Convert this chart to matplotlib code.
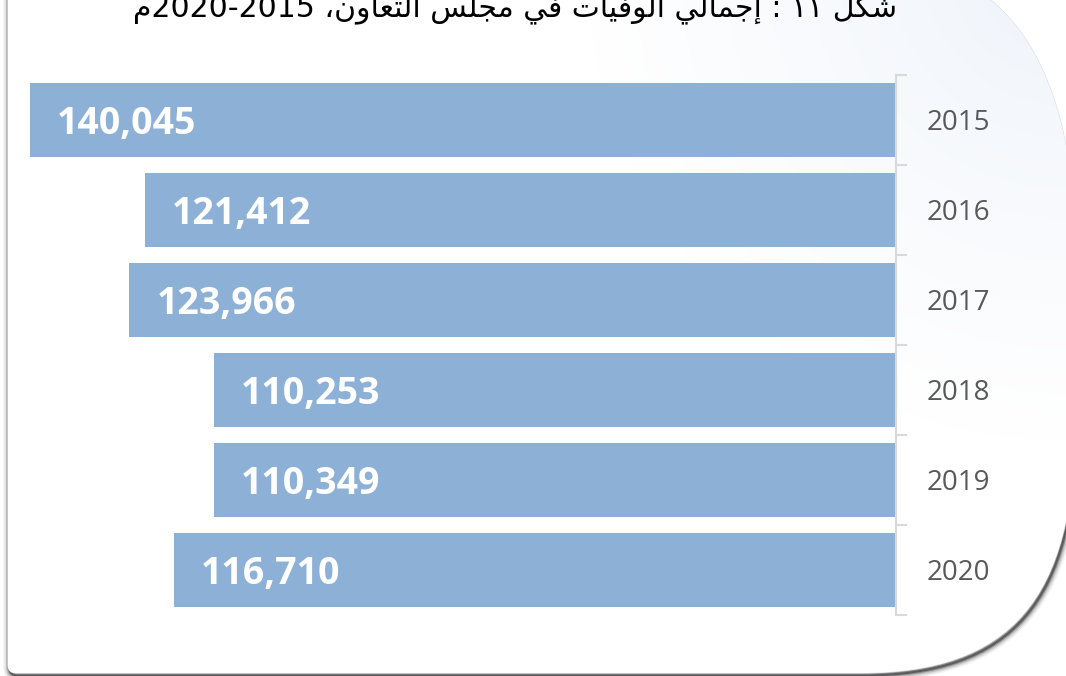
import numpy as np
import matplotlib.pyplot as plt
from matplotlib.path import Path
from matplotlib.patches import PathPatch
import matplotlib.transforms as mtransforms

years = ['2015', '2016', '2017', '2018', '2019', '2020']
deaths = [140045, 121412, 123966, 110253, 110349, 116710]

# Arabic title, written in visual (left-to-right) order with presentation forms
title_words = [
    '\uFEE1' + '2020-2015',
    '\u060C' + '\uFEE5\uFEED\uFE8E\uFECC\uFE98\uFEDF\uFE8D',
    '\uFEB2\uFEE0\uFEA0\uFEE3',
    '\uFEF2\uFED3',
    '\uFE95\uFE8E\uFEF4\uFED3\uFEEE\uFEDF\uFE8D',
    '\uFEF2\uFEDF\uFE8E\uFEE4\uFE9F\uFE87',
    ':',
    '\u0661\u0661',
    '\uFEDE\uFEDC\uFEB7',
]
title = ' '.join(title_words)

bar_color = '#8db1d6'
W, H = 1066, 676

fig = plt.figure(figsize=(W / 100, H / 100), dpi=100)
fig.patch.set_facecolor('white')

# background card in pixel coords
bg = fig.add_axes([0, 0, 1, 1], zorder=0)
bg.set_xlim(0, W)
bg.set_ylim(H, 0)
bg.axis('off')

low_verts = [
    (8, -20), (8, 665),
    (8, 673), (16, 673),
    (860, 673),
    (1010, 673), (1075, 600), (1075, 420),
    (1075, 250),
]
low_codes = [Path.MOVETO, Path.LINETO,
             Path.CURVE3, Path.CURVE3,
             Path.LINETO,
             Path.CURVE4, Path.CURVE4, Path.CURVE4,
             Path.LINETO]
top_verts = [(1075, 120), (1040, 20), (960, -20), (8, -20)]
top_codes = [Path.CURVE4, Path.CURVE4, Path.CURVE4, Path.CLOSEPOLY]
card_path = Path(low_verts + top_verts, low_codes + top_codes)
shadow_path = Path(low_verts, low_codes)

# soft shadow along left, bottom and lower right edge
for lw, a in [(9, 0.06), (7, 0.1), (5, 0.18), (3, 0.35), (1.5, 0.55)]:
    off = mtransforms.Affine2D().translate(1.5, 2.5) + bg.transData
    bg.add_patch(PathPatch(shadow_path, facecolor='none', edgecolor='#333333',
                           lw=lw, alpha=a, transform=off))

card = PathPatch(card_path, facecolor='white', edgecolor='#d8dde6', lw=0.8)
bg.add_patch(card)

# pale blue glow in the top right corner
yy, xx = np.mgrid[0:H, 0:W]
d = np.sqrt((xx - 1066) ** 2 + (yy + 40) ** 2)
t = np.clip(d / 480, 0, 1) ** 0.8
c0 = np.array([0.93, 0.95, 0.98])
img = c0[None, None, :] * (1 - t[..., None]) + np.ones(3)[None, None, :] * t[..., None]
im = bg.imshow(img, extent=(0, W, H, 0), zorder=1, aspect='auto')
im.set_clip_path(card)

bg.text(515, 16, title, ha='center', va='baseline', fontsize=21.5,
        family=['DejaVu Sans'], color='black', zorder=3)

# bar chart
ax = fig.add_axes([30 / W, 1 - 615 / H, (896 - 30) / W, 540 / H], zorder=2)
ax.patch.set_alpha(0)
pos = np.arange(len(years))
ax.barh(pos, deaths, height=0.833, color=bar_color)
ax.set_xlim(max(deaths), 0)
ax.set_ylim(len(years) - 0.5, -0.5)

for s in ['top', 'bottom', 'left']:
    ax.spines[s].set_visible(False)
ax.spines['right'].set_color('#d9d9d9')
ax.spines['right'].set_linewidth(1.5)
ax.set_xticks([])
ax.yaxis.tick_right()
ax.set_yticks(pos)
ax.set_yticklabels(years, fontsize=20, color='#595959', family='Open Sans')
ax.set_yticks(np.arange(len(years) + 1) - 0.5, minor=True)
ax.tick_params(axis='y', which='major', length=0, pad=22)
ax.tick_params(axis='y', which='minor', length=8, width=1.5, color='#d9d9d9',
               right=True, left=False)

for i, v in enumerate(deaths):
    ax.annotate(f'{v:,}', xy=(v, i), xytext=(27, -4), textcoords='offset pixels',
                ha='left', va='center', fontsize=27, fontweight='bold',
                color='white', family='Open Sans')

fig.savefig('out.png', dpi=100)
